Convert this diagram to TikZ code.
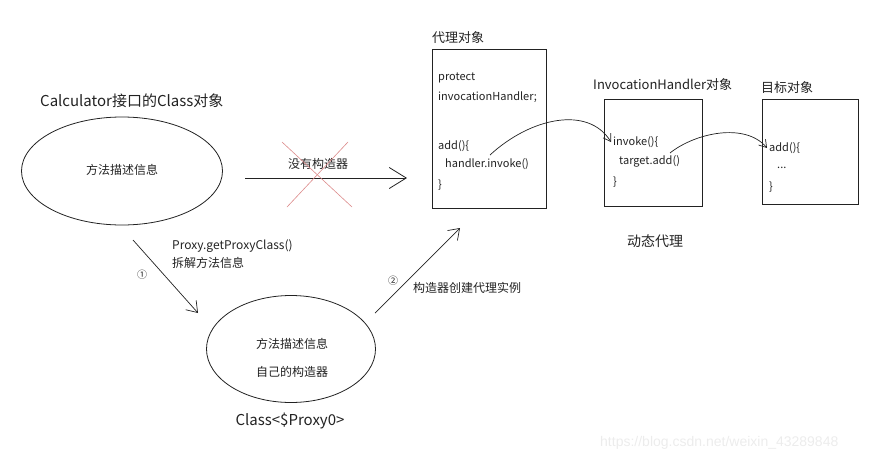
\documentclass[tikz,border=0pt]{standalone}
\usepackage{fontspec}
\setmainfont{Noto Sans CJK SC}
\newfontfamily\markfont{Liberation Sans}
\usetikzlibrary{arrows.meta,shapes.geometric}
\definecolor{ink}{HTML}{222222}
\definecolor{crossred}{HTML}{DC8A8A}

\tikzset{
  txt/.style={font=\fontsize{12}{14}\selectfont,text=ink,inner sep=0pt},
  codetxt/.style={font=\fontsize{11}{13}\selectfont,text=ink,inner sep=0pt,anchor=west},
  boxlbl/.style={font=\fontsize{13}{15}\selectfont,text=ink,inner sep=0pt,anchor=west},
  bigtxt/.style={font=\fontsize{15}{17}\selectfont,text=ink,inner sep=0pt},
  numtxt/.style={font=\fontsize{10}{12}\selectfont,text=ink,inner sep=0pt},
  objbox/.style={draw=ink,line width=0.8pt,anchor=north west,inner sep=0pt},
  metaoval/.style={draw=ink,line width=0.8pt,ellipse,inner sep=0pt},
  bigarrow/.style={draw=ink,line width=0.8pt,-{Straight Barb[length=17pt,width=21pt,line width=0.8pt]}},
  smallarrow/.style={draw=ink,line width=0.7pt,-{Straight Barb[length=7pt,width=9pt,line width=0.7pt]}}
}

\begin{document}
\begin{tikzpicture}[x=1pt,y=-1pt]
  \useasboundingbox (0,0) rectangle (881,461);
  % Interface class object
  \node[bigtxt,anchor=west] (calclbl) at (40,101) {Calculator接口的Class对象};
  \node[metaoval,minimum width=201pt,minimum height=108pt] (meta) at (122,171) {};
  \node[txt] (metatxt) at (122,170) {方法描述信息};
  % Direct way, crossed out
  \coordinate (nostart) at (245,178);
  \coordinate (noend) at (407,178);
  \draw[bigarrow] (nostart) -- (noend);
  \node[txt] (nolbl) at (318,164) {没有构造器};
  \draw[crossred,line width=0.6pt] (282,142) -- (352,207);
  \draw[crossred,line width=0.6pt] (348,142) -- (287,207);
  % Proxy object
  \node[boxlbl] (proxylbl) at (432,38) {代理对象};
  \node[objbox,minimum width=114pt,minimum height=159pt] (proxy) at (432,49) {};
  \node[codetxt] (p1) at (438,78) {protect};
  \node[codetxt] (p2) at (438,97) {invocationHandler;};
  \node[codetxt] (p3) at (438,146) {add()\{};
  \node[codetxt] (p4) at (445,164) {handler.invoke()};
  \node[codetxt] (p5) at (438,185) {\}};
  % InvocationHandler object
  \node[boxlbl] (ihlbl) at (593,85) {InvocationHandler对象};
  \node[objbox,minimum width=98pt,minimum height=107pt] (ih) at (604,99) {};
  \node[codetxt] (invk) at (613,142) {invoke()\{};
  \node[codetxt] (tadd) at (619,161) {target.add()};
  \node[codetxt] (iend) at (613,182) {\}};
  % Target object
  \node[boxlbl] (tgtlbl) at (761,88) {目标对象};
  \node[objbox,minimum width=96pt,minimum height=105pt] (tgt) at (762,99) {};
  \node[codetxt] (add) at (769,148) {add()\{};
  \node[codetxt] (dots) at (777,168) {...};
  \node[codetxt] (tend) at (769,187) {\}};
  \node[txt,font=\fontsize{14}{16}\selectfont] (dynlbl) at (655,241) {动态代理};
  % Call chain
  \coordinate (c1) at (490,155);
  \coordinate (c2) at (670,153);
  \draw[smallarrow] (c1) .. controls (530,118) and (588,105) .. ([xshift=-2pt]invk.west);
  \draw[smallarrow] (c2) .. controls (695,133) and (745,122) .. ([xshift=-2pt]add.west);
  % Step 1
  \coordinate (s1a) at (133,240);
  \coordinate (s1b) at (198,313);
  \draw[smallarrow,-{Straight Barb[length=10pt,width=14pt,line width=0.7pt]}] (s1a) -- (s1b);
  \node[numtxt] (n1) at (142,275) {①};
  \node[txt,anchor=west] (s1l1) at (172,246) {Proxy.getProxyClass()};
  \node[txt,anchor=west] (s1l2) at (172,263) {拆解方法信息};
  % Generated proxy class
  \node[metaoval,minimum width=169pt,minimum height=107pt] (pcls) at (291,349) {};
  \node[txt] (pc1) at (292,344) {方法描述信息};
  \node[txt] (pc2) at (292,372) {自己的构造器};
  \node[bigtxt] (pclbl) at (290,421) {Class<\$Proxy0>};
  % Step 2
  \coordinate (s2a) at (375,313);
  \coordinate (s2b) at (460,228);
  \draw[smallarrow,-{Straight Barb[length=10pt,width=14pt,line width=0.7pt]}] (s2a) -- (s2b);
  \node[numtxt] (n2) at (393,281) {②};
  \node[txt,anchor=west] (s2l) at (413,288) {构造器创建代理实例};
  % Watermark
  \node[inner sep=0pt,anchor=west,text=gray!15,font=\markfont\fontsize{14}{16}\selectfont] (mark) at (600,443) {https://blog.csdn.net/weixin\_43289848};
\end{tikzpicture}
\end{document}
